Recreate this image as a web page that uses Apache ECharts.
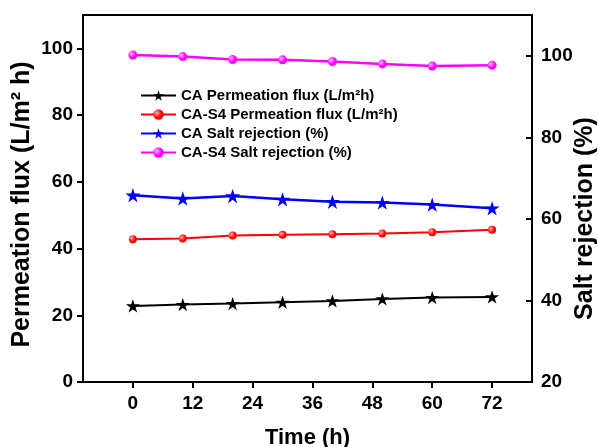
<!DOCTYPE html>
<html>
<head>
<meta charset="utf-8">
<script src="https://cdn.jsdelivr.net/npm/echarts@6/dist/echarts.min.js"></script>
<style>
  html, body { margin: 0; padding: 0; background: #fff; }
  #main { width: 599px; height: 447px; }
</style>
</head>
<body>
<div id="main"></div>
<script>
// time points (h)
const times = [0, 10, 20, 30, 40, 50, 60, 72];
const xTicks = [0, 12, 24, 36, 48, 60, 72];
const leftTicks = [0, 20, 40, 60, 80, 100];
const rightTicks = [20, 40, 60, 80, 100];
// left axis series
const caFlux = [22.8, 23.2, 23.5, 23.9, 24.3, 24.9, 25.3, 25.5];
const cas4Flux = [42.8, 43.0, 43.9, 44.1, 44.3, 44.5, 44.9, 45.6];
// right axis series
const caRej = [65.8, 65.0, 65.6, 64.8, 64.2, 64.0, 63.5, 62.6];
const cas4Rej = [100.2, 99.8, 99.1, 99.0, 98.6, 98.0, 97.5, 97.7];

const STAR = 'path://M50 0 L61.23 34.55 L97.55 34.55 L68.16 55.9 L79.39 90.45 L50 69.1 L20.61 90.45 L31.84 55.9 L2.45 34.55 L38.77 34.55 Z';
const FONT = 'Liberation Sans';

const pairs = vals => times.map((t, i) => [t, vals[i]]);
const ball = (light, col) => ({
  type: 'radial', x: 0.35, y: 0.35, r: 0.75,
  colorStops: [{offset: 0, color: light}, {offset: 0.6, color: col}, {offset: 1, color: col}]
});

const axisFont = {color: '#000', fontFamily: FONT, fontWeight: 'bold', fontSize: 19};
const nameFont = {color: '#000', fontFamily: FONT, fontWeight: 'bold', fontSize: 25};

var myChart = echarts.init(document.getElementById('main'));
myChart.setOption({
  animation: false,
  backgroundColor: '#fff',
  grid: {
    left: 83, right: 67, top: 15, bottom: 65, outerBoundsMode: 'none',
    show: true, borderColor: '#000', borderWidth: 2
  },
  legend: {
    orient: 'vertical', left: 135, top: 83,
    itemWidth: 35, itemHeight: 13, itemGap: 4,
    textStyle: {color: '#000', fontFamily: FONT, fontWeight: 'bold', fontSize: 15},
    data: ['CA Permeation flux (L/m²h)', 'CA-S4 Permeation flux (L/m²h)', 'CA Salt rejection (%)', 'CA-S4 Salt rejection (%)']
  },
  xAxis: {
    type: 'value', min: -10, max: 80,
    name: 'Time (h)', nameLocation: 'middle', nameGap: 45, nameMoveOverlap: false,
    nameTextStyle: Object.assign({}, nameFont, {fontSize: 22}),
    axisLine: {onZero: false, lineStyle: {color: '#000', width: 2}},
    axisTick: {customValues: xTicks, length: 6, lineStyle: {width: 2}},
    axisLabel: Object.assign({customValues: xTicks, margin: 12}, axisFont),
    splitLine: {show: false}
  },
  yAxis: [{
    type: 'value', min: 0, max: 110, position: 'left',
    name: 'Permeation flux (L/m² h)', nameLocation: 'middle', nameGap: 48, nameRotate: 90,
    nameMoveOverlap: false,
    nameTextStyle: Object.assign({padding: [0, 12, 0, 0]}, nameFont),
    axisLine: {show: true, onZero: false, lineStyle: {color: '#000', width: 2}},
    axisTick: {customValues: leftTicks, length: 6, lineStyle: {width: 2}},
    axisLabel: Object.assign({customValues: leftTicks, margin: 10}, axisFont),
    splitLine: {show: false}
  }, {
    type: 'value', min: 20, max: 110, position: 'right',
    name: 'Salt rejection (%)', nameLocation: 'middle', nameGap: 41, nameRotate: 90,
    nameMoveOverlap: false,
    nameTextStyle: Object.assign({padding: [0, 40, 0, 0]}, nameFont),
    axisLine: {show: true, onZero: false, lineStyle: {color: '#000', width: 2}},
    axisTick: {customValues: rightTicks, inside: true, length: 6, lineStyle: {width: 2}},
    axisLabel: Object.assign({customValues: rightTicks, margin: 9}, axisFont),
    splitLine: {show: false}
  }],
  series: [{
    name: 'CA Permeation flux (L/m²h)', type: 'line', yAxisIndex: 0,
    data: pairs(caFlux), symbol: STAR, symbolSize: 14, symbolKeepAspect: true,
    itemStyle: {color: '#000'}, lineStyle: {color: '#000', width: 2}
  }, {
    name: 'CA-S4 Permeation flux (L/m²h)', type: 'line', yAxisIndex: 0,
    data: pairs(cas4Flux), symbol: 'circle', symbolSize: 8,
    itemStyle: {color: ball('#ffb0b0', '#ff0000')}, lineStyle: {color: '#ff0000', width: 2}
  }, {
    name: 'CA Salt rejection (%)', type: 'line', yAxisIndex: 1,
    data: pairs(caRej), symbol: STAR, symbolSize: 15, symbolKeepAspect: true,
    itemStyle: {color: '#0000ff'}, lineStyle: {color: '#0000ff', width: 2.5}
  }, {
    name: 'CA-S4 Salt rejection (%)', type: 'line', yAxisIndex: 1,
    data: pairs(cas4Rej), symbol: 'circle', symbolSize: 9,
    itemStyle: {color: ball('#ffb0ff', '#ff00ff')}, lineStyle: {color: '#ff00ff', width: 2.5}
  }]
});
</script>
</body>
</html>
